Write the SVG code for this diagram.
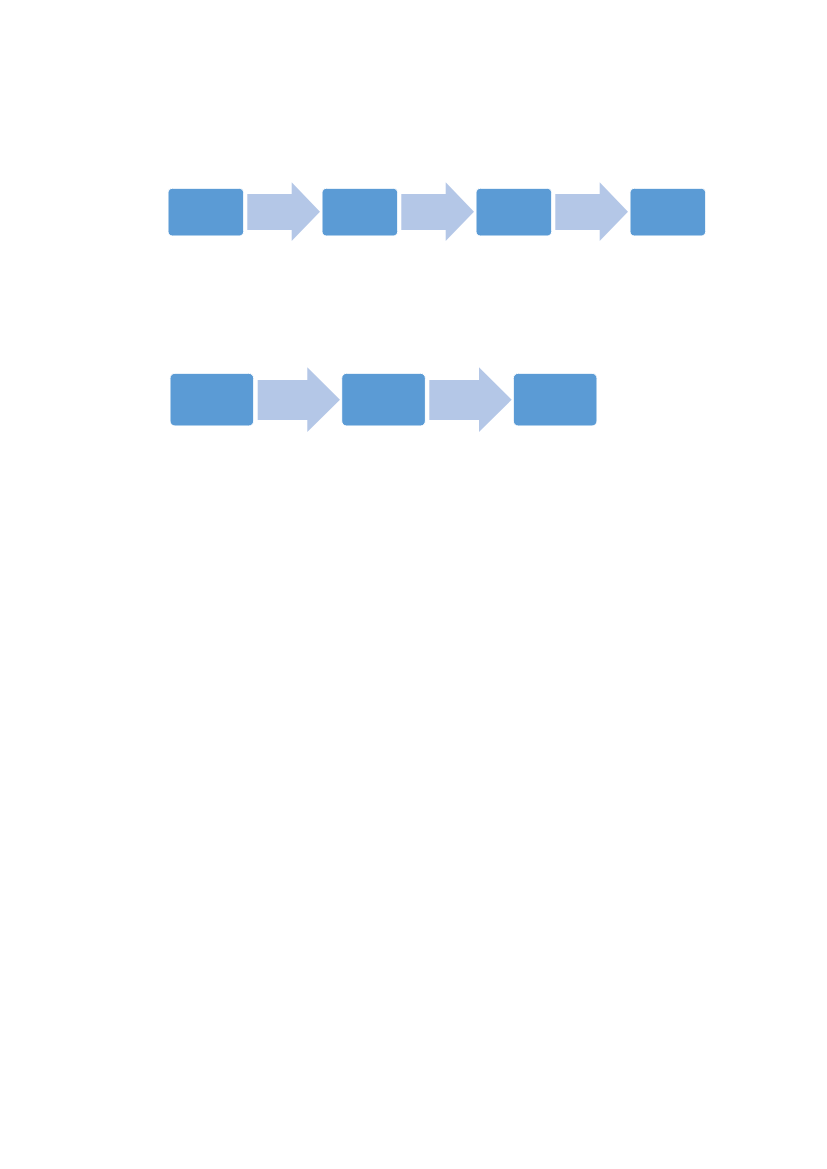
<svg xmlns="http://www.w3.org/2000/svg" width="827" height="1169" viewBox="0 0 827 1169">
<style>
.box{fill:#5B9BD5;stroke:#FFFFFF;stroke-width:1}
.arr{fill:#B4C7E7}
</style>
<rect x="0" y="0" width="827" height="1169" fill="#FFFFFF"/>
<g id="connectors">
<polygon class="arr" points="247.3,194 291.7,194 291.7,182.3 320,211.7 291.7,241 291.7,230 247.3,230"/>
<polygon class="arr" points="401.3,194 445.7,194 445.7,182.3 474,211.7 445.7,241 445.7,230 401.3,230"/>
<polygon class="arr" points="555.3,194 599.7,194 599.7,182.3 628,211.7 599.7,241 599.7,230 555.3,230"/>
<polygon class="arr" points="257.7,380 307.3,380 307.3,367.3 340,399.7 307.3,432 307.3,420 257.7,420"/>
<polygon class="arr" points="429.3,380 479,380 479,367.3 511.7,399.7 479,432 479,420 429.3,420"/>
</g>
<g id="n1"><rect class="box" x="168" y="188.3" width="75.7" height="47.7" rx="4.5"/></g>
<g id="n2"><rect class="box" x="322" y="188.3" width="75.7" height="47.7" rx="4.5"/></g>
<g id="n3"><rect class="box" x="476" y="188.3" width="75.7" height="47.7" rx="4.5"/></g>
<g id="n4"><rect class="box" x="630" y="188.3" width="75.7" height="47.7" rx="4.5"/></g>
<g id="n5"><rect class="box" x="170" y="373.3" width="83.7" height="52.7" rx="5"/></g>
<g id="n6"><rect class="box" x="341.7" y="373.3" width="83.7" height="52.7" rx="5"/></g>
<g id="n7"><rect class="box" x="513.3" y="373.3" width="83.7" height="52.7" rx="5"/></g>
</svg>
